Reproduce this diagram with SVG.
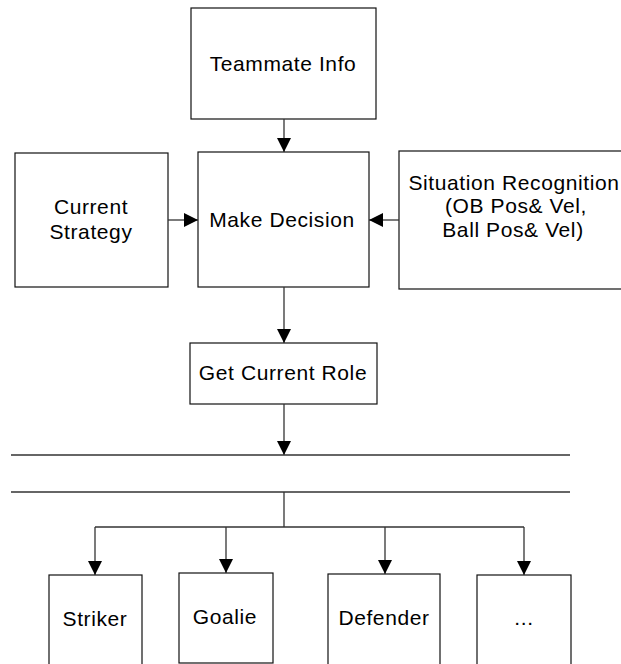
<svg xmlns="http://www.w3.org/2000/svg" width="621" height="664" viewBox="0 0 621 664">
<style>
.box{fill:#fff;stroke:#111;stroke-width:1.2}
.lbl{font-family:"Liberation Sans",Arial,sans-serif;font-size:21px;letter-spacing:0.6px;fill:#000;text-anchor:middle}
.con{fill:none;stroke:#333;stroke-width:1.3}
</style>
<defs>
<marker id="ah" markerUnits="userSpaceOnUse" markerWidth="15" markerHeight="14" refX="14" refY="7" orient="auto">
<path d="M0,0 L14,7 L0,14 z" fill="#000"/>
</marker>
</defs>
<rect width="621" height="664" fill="#fff"/>
<g id="teammate-info">
<rect class="box" x="191" y="8" width="185" height="111"/>
<text class="lbl" x="283" y="71">Teammate Info</text>
</g>
<g id="current-strategy">
<rect class="box" x="15" y="153" width="153" height="134"/>
<text class="lbl" x="91" y="214">Current</text>
<text class="lbl" x="91" y="239">Strategy</text>
</g>
<g id="make-decision">
<rect class="box" x="198" y="152" width="171" height="135"/>
<text class="lbl" x="282" y="227">Make Decision</text>
</g>
<g id="situation-recognition">
<rect class="box" x="399" y="151" width="240" height="138"/>
<text class="lbl" x="514" y="190">Situation Recognition</text>
<text class="lbl" x="516" y="213">(OB Pos&amp; Vel,</text>
<text class="lbl" x="513" y="237">Ball Pos&amp; Vel)</text>
</g>
<g id="get-current-role">
<rect class="box" x="190" y="343" width="187" height="61"/>
<text class="lbl" x="283" y="380">Get Current Role</text>
</g>
<g id="striker">
<rect class="box" x="49" y="575" width="93" height="100"/>
<text class="lbl" x="95" y="626">Striker</text>
</g>
<g id="goalie">
<rect class="box" x="179" y="573" width="94" height="90"/>
<text class="lbl" x="225" y="624">Goalie</text>
</g>
<g id="defender">
<rect class="box" x="328" y="574" width="112" height="100"/>
<text class="lbl" x="384" y="625">Defender</text>
</g>
<g id="more">
<rect class="box" x="477" y="575" width="94" height="100"/>
<text class="lbl" x="524" y="625">...</text>
</g>
<g id="connectors">
<line class="con" x1="284" y1="119" x2="284" y2="152" marker-end="url(#ah)"/>
<line class="con" x1="168" y1="220" x2="198" y2="220" marker-end="url(#ah)"/>
<line class="con" x1="399" y1="220" x2="369" y2="220" marker-end="url(#ah)"/>
<line class="con" x1="284" y1="287" x2="284" y2="343" marker-end="url(#ah)"/>
<line class="con" x1="284" y1="404" x2="284" y2="455" marker-end="url(#ah)"/>
<line class="con" x1="11" y1="455" x2="570" y2="455"/>
<line class="con" x1="11" y1="492" x2="570" y2="492"/>
<line class="con" x1="284" y1="492" x2="284" y2="527"/>
<line class="con" x1="95" y1="527" x2="524" y2="527"/>
<line class="con" x1="95" y1="527" x2="95" y2="575" marker-end="url(#ah)"/>
<line class="con" x1="226" y1="527" x2="226" y2="573" marker-end="url(#ah)"/>
<line class="con" x1="385" y1="527" x2="385" y2="574" marker-end="url(#ah)"/>
<line class="con" x1="524" y1="527" x2="524" y2="575" marker-end="url(#ah)"/>
</g>
</svg>
